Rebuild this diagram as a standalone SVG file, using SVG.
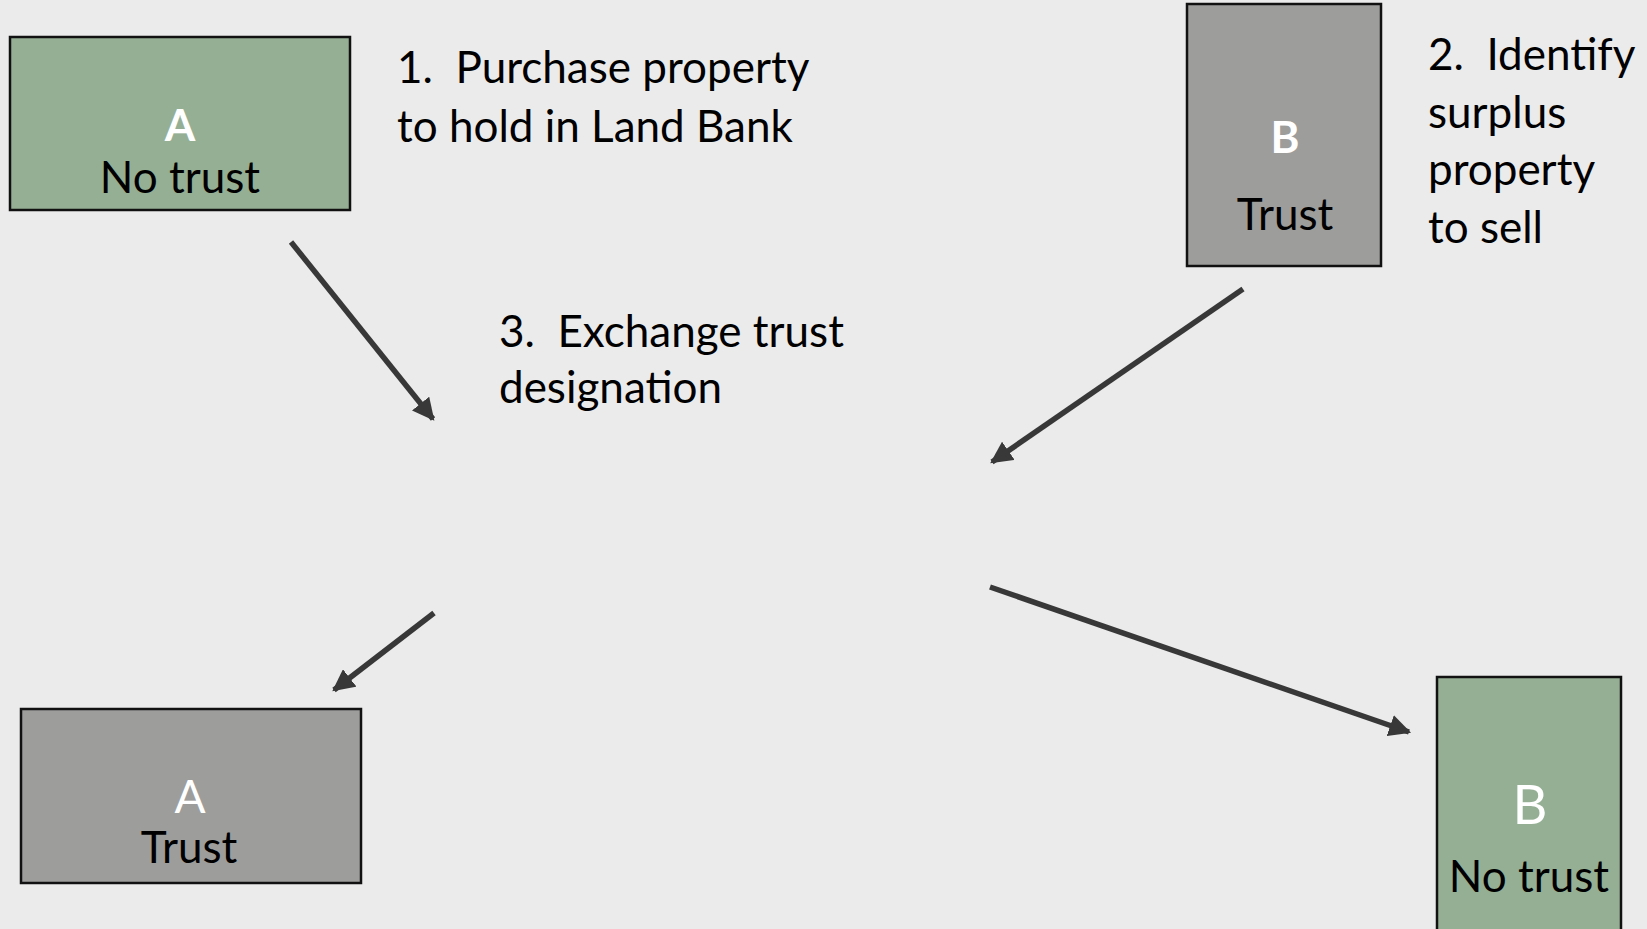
<svg xmlns="http://www.w3.org/2000/svg" width="1647" height="929" viewBox="0 0 1647 929">
<defs>
<style>
.bg{fill:#EBEBEB}
.green{fill:#94AF94;stroke:#111;stroke-width:2.5}
.gray{fill:#9D9D9C;stroke:#111;stroke-width:2.5}
text{font-family:Lato,"Open Sans","Liberation Sans",sans-serif;font-size:44px;fill:#000}
.c{text-anchor:middle}
.w{fill:#fff}
.b{font-weight:bold}
.conn{stroke:#383838;stroke-width:5.5;fill:none;marker-end:url(#ah)}
</style>
<marker id="ah" viewBox="0 0 10 10" refX="9" refY="5" markerWidth="4" markerHeight="4" orient="auto" markerUnits="strokeWidth">
<path d="M0,0 L10,5 L0,10 Z" fill="#383838"/>
</marker>
</defs>
<rect class="bg" x="0" y="0" width="1647" height="929"/>
<g id="connectors">
<line class="conn" x1="291" y1="242" x2="433" y2="419"/>
<line class="conn" x1="1243" y1="289" x2="992" y2="462"/>
<line class="conn" x1="434" y1="613" x2="334" y2="690"/>
<line class="conn" x1="990" y1="587" x2="1409" y2="732"/>
</g>
<g id="nodeA1">
<rect class="green" x="10" y="37" width="340" height="173"/>
<text class="c w b" x="180" y="141">A</text>
<text class="c" x="180" y="193">No trust</text>
</g>
<g id="nodeB1">
<rect class="gray" x="1187" y="4" width="194" height="262"/>
<text class="c w b" x="1285" y="153">B</text>
<text class="c" x="1285" y="230">Trust</text>
</g>
<g id="nodeA2">
<rect class="gray" x="21" y="709" width="340" height="174"/>
<text class="c w" x="190" y="813" style="font-size:46px">A</text>
<text class="c" x="189" y="863">Trust</text>
</g>
<g id="nodeB2">
<rect class="green" x="1437" y="677" width="184" height="270"/>
<text class="c w" x="1530" y="824" style="font-size:54px">B</text>
<text class="c" x="1529" y="892">No trust</text>
</g>
<g id="label1">
<text x="397" y="83" xml:space="preserve">1.  Purchase property</text>
<text x="397" y="142">to hold in Land Bank</text>
</g>
<g id="label2">
<text x="1428" y="70" xml:space="preserve">2.  Identify</text>
<text x="1428" y="128">surplus</text>
<text x="1428" y="185">property</text>
<text x="1428" y="243">to sell</text>
</g>
<g id="label3">
<text x="499" y="347" xml:space="preserve">3.  Exchange trust</text>
<text x="499" y="403">designation</text>
</g>
</svg>
